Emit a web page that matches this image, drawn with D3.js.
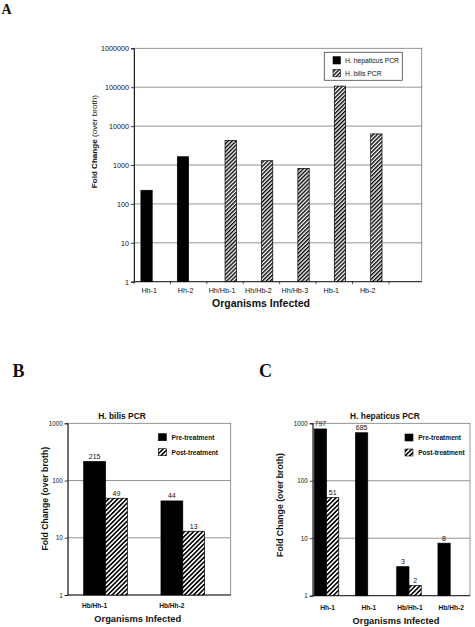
<!DOCTYPE html>
<html>
<head>
<meta charset="utf-8">
<script src="https://cdn.jsdelivr.net/npm/d3@7"></script>
<style>
  html, body { margin: 0; padding: 0; background: #fff; }
  svg { display: block; }
  text { font-family: "Liberation Sans", Arial, Helvetica, sans-serif; fill: #111; }
  .panel { font-family: "Liberation Serif", "Times New Roman", serif; font-weight: bold; }
</style>
</head>
<body>
<svg id="chart" width="475" height="627"></svg>
<script>
// ---------------- DATA ----------------
// Panel A
const categoriesA = ["Hh-1", "Hh-2", "Hh/Hb-1", "Hh/Hb-2", "Hh/Hb-3", "Hb-1", "Hb-2"];
const hepaticusA  = [224, 1630, null, null, null, null, null];
const bilisA      = [null, null, 4300, 1290, 820, 107000, 6300];
const seriesNamesA = ["H. hepaticus PCR", "H. bilis PCR"];
const yTicksA = [1, 10, 100, 1000, 10000, 100000, 1000000];

// Panel B (H. bilis PCR)
const titleB = "H. bilis PCR";
const categoriesB = ["Hb/Hh-1", "Hb/Hh-2"];
const preB  = [215, 44];
const postB = [49, 13];

// Panel C (H. hepaticus PCR)
const titleC = "H. hepaticus PCR";
const categoriesC = ["Hh-1", "Hh-1", "Hb/Hh-1", "Hb/Hh-2"];
const preC  = [797, 685, 3.2, 8.2];
const postC = [51, null, 1.5, null];

const seriesNamesBC = ["Pre-treatment", "Post-treatment"];
const yTicksBC = [1, 10, 100, 1000];

const xTitle = "Organisms Infected";
const yTitleBold = "Fold Change";
const yTitleRest = "(over broth)";

// ---------------- SETUP ----------------
const svg = d3.select("#chart");
const defs = svg.append("defs");

function hatch(id, period) {
  const p = defs.append("pattern")
    .attr("id", id)
    .attr("patternUnits", "userSpaceOnUse")
    .attr("width", period).attr("height", period)
    .attr("patternTransform", "rotate(45)");
  p.append("rect").attr("width", period).attr("height", period).attr("fill", "#fff");
  p.append("rect").attr("width", period * 0.5).attr("height", period).attr("fill", "#000");
}
hatch("hatchA", 2.8);
hatch("hatchBC", 3.2);

const fmtInt = d3.format(".0f");

function drawFrame(g, x0, x1, y, ticks, tickFont, gridColor) {
  // plot border
  g.append("rect")
    .attr("x", x0).attr("y", y(ticks[ticks.length - 1]))
    .attr("width", x1 - x0).attr("height", y(ticks[0]) - y(ticks[ticks.length - 1]))
    .attr("fill", "none").attr("stroke", gridColor).attr("stroke-width", 0.8);
  // gridlines
  g.append("g").selectAll("line")
    .data(ticks.slice(1, -1))
    .join("line")
    .attr("x1", x0).attr("x2", x1)
    .attr("y1", d => y(d)).attr("y2", d => y(d))
    .attr("stroke", gridColor).attr("stroke-width", 0.8);
  // y axis
  const ax = g.append("g")
    .attr("transform", `translate(${x0},0)`)
    .call(d3.axisLeft(y).tickValues(ticks).tickFormat(d3.format("d")).tickSize(3).tickPadding(2));
  ax.select(".domain").attr("stroke", "#111").attr("stroke-width", 0.9);
  ax.selectAll(".tick line").attr("stroke", "#111").attr("stroke-width", 0.8);
  ax.selectAll(".tick text").attr("font-size", tickFont).attr("font-family", "'Liberation Sans', Arial, sans-serif").attr("fill", "#111");
  // x axis line
  g.append("line")
    .attr("x1", x0).attr("x2", x1)
    .attr("y1", y(ticks[0])).attr("y2", y(ticks[0]))
    .attr("stroke", "#111").attr("stroke-width", 0.9);
}

// ---------------- PANEL A ----------------
{
  const g = svg.append("g");
  const x0 = 134, x1 = 421.7, yTop = 48.3, yBot = 281.7;
  const y = d3.scaleLog().domain([1, 1e6]).range([yBot, yTop]);
  const x = d3.scaleBand().domain(categoriesA).range([x0, x1])
    .paddingInner(0).paddingOuter(0.45).align(0);
  const xs = d3.scaleBand().domain([0, 1]).range([0, x.bandwidth()]).paddingOuter(0.61);

  drawFrame(g, x0, x1, y, yTicksA, 7.2, "#7a7a7a");

  // bottom ticks at band edges
  g.append("g").selectAll("line")
    .data(categoriesA.concat(["__end"]))
    .join("line")
    .attr("x1", (d, i) => x0 + i * x.step()).attr("x2", (d, i) => x0 + i * x.step())
    .attr("y1", yBot).attr("y2", yBot + 2.5)
    .attr("stroke", "#111").attr("stroke-width", 0.7);

  [hepaticusA, bilisA].forEach((vals, s) => {
    g.append("g").selectAll("rect")
      .data(vals.map((v, i) => ({ v, c: categoriesA[i] })).filter(d => d.v != null))
      .join("rect")
      .attr("x", d => x(d.c) + xs(s))
      .attr("width", xs.bandwidth())
      .attr("y", d => y(d.v))
      .attr("height", d => yBot - y(d.v))
      .attr("fill", s === 0 ? "#000" : "url(#hatchA)")
      .attr("stroke", "#000").attr("stroke-width", 0.7);
  });

  // category labels
  g.append("g").selectAll("text")
    .data(categoriesA)
    .join("text")
    .attr("x", d => x(d) + x.bandwidth() / 2 - 3)
    .attr("y", 292.5)
    .attr("text-anchor", "middle")
    .attr("font-size", 7.2)
    .text(d => d);

  g.append("text")
    .attr("x", 261).attr("y", 307)
    .attr("text-anchor", "middle")
    .attr("font-size", 10.5).attr("font-weight", "bold")
    .text(xTitle);

  const yt = g.append("text")
    .attr("transform", "translate(96.5,141.7) rotate(-90)")
    .attr("text-anchor", "middle")
    .attr("font-size", 8.1);
  yt.append("tspan").attr("font-weight", "bold").text(yTitleBold + " ");
  yt.append("tspan").text(yTitleRest);

  // legend
  const lg = g.append("g");
  lg.append("rect").attr("x", 324.3).attr("y", 52.3).attr("width", 78).attr("height", 28)
    .attr("fill", "#fff").attr("stroke", "#444").attr("stroke-width", 0.8);
  seriesNamesA.forEach((name, i) => {
    lg.append("rect").attr("x", 333).attr("y", 56.7 + i * 12.8).attr("width", 7.5).attr("height", 7.3)
      .attr("fill", i === 0 ? "#000" : "url(#hatchA)").attr("stroke", "#000").attr("stroke-width", 0.6);
    lg.append("text").attr("x", 345).attr("y", 60.4 + i * 12.8)
      .attr("dominant-baseline", "central").attr("font-size", 6.8).text(name);
  });

  svg.append("text").attr("class", "panel").attr("x", 1.5).attr("y", 13.5)
    .attr("font-size", 14).text("A");
}

// ---------------- PANELS B / C ----------------
function panelBC(opts) {
  const g = svg.append("g");
  const { x0, x1, yTop, yBot, cats, pre, post, title, titleX, pIn, pOut, align, labelOnPre,
          legX, legY, yLabelX, yLabelY, xTitleX, catY, xTitleY, letter, letterX } = opts;
  const y = d3.scaleLog().domain([1, 1000]).range([yBot, yTop]);
  const idx = d3.range(cats.length);
  const x = d3.scaleBand().domain(idx).range([x0, x1]).paddingInner(pIn).paddingOuter(pOut).align(align);
  const xs = d3.scaleBand().domain([0, 1]).range([0, x.bandwidth()]);

  drawFrame(g, x0, x1, y, yTicksBC, 6.3, "#7a7a7a");

  [pre, post].forEach((vals, s) => {
    const data = vals.map((v, i) => ({ v, i })).filter(d => d.v != null);
    g.append("g").selectAll("rect")
      .data(data)
      .join("rect")
      .attr("x", d => x(d.i) + xs(s))
      .attr("width", xs.bandwidth())
      .attr("y", d => y(d.v))
      .attr("height", d => yBot - y(d.v))
      .attr("fill", s === 0 ? "#000" : "url(#hatchBC)")
      .attr("stroke", "#000").attr("stroke-width", 0.7);
    g.append("g").selectAll("text")
      .data(data)
      .join("text")
      .attr("x", d => x(d.i) + xs(s) + xs.bandwidth() / 2)
      .attr("y", d => y(d.v) - 2.6)
      .attr("text-anchor", "middle")
      .attr("font-size", 7)
      .text(d => fmtInt(d.v));
  });

  g.append("g").selectAll("text")
    .data(idx)
    .join("text")
    .attr("x", i => labelOnPre ? x(i) + xs(0) + xs.bandwidth() / 2 : x(i) + x.bandwidth() / 2 + 1)
    .attr("y", catY)
    .attr("text-anchor", "middle")
    .attr("font-size", 6.6).attr("font-weight", "bold")
    .text(i => cats[i]);

  g.append("text")
    .attr("x", titleX).attr("y", yTop - 4)
    .attr("text-anchor", "middle")
    .attr("font-size", 8.4).attr("font-weight", "bold")
    .text(title);

  g.append("text")
    .attr("x", xTitleX).attr("y", xTitleY)
    .attr("text-anchor", "middle")
    .attr("font-size", 9.3).attr("font-weight", "bold")
    .text(xTitle);

  g.append("text")
    .attr("transform", `translate(${yLabelX},${yLabelY}) rotate(-90)`)
    .attr("text-anchor", "middle")
    .attr("font-size", 8.7).attr("font-weight", "bold")
    .text(yTitleBold + " " + yTitleRest);

  seriesNamesBC.forEach((name, i) => {
    g.append("rect").attr("x", legX).attr("y", legY + i * 15).attr("width", 8).attr("height", 7)
      .attr("fill", i === 0 ? "#000" : "url(#hatchBC)").attr("stroke", "#000").attr("stroke-width", 0.6);
    g.append("text").attr("x", legX + 13.2).attr("y", legY + 3.6 + i * 15)
      .attr("dominant-baseline", "central")
      .attr("font-size", 6.6).attr("font-weight", "bold").text(name);
  });

  svg.append("text").attr("class", "panel").attr("x", letterX).attr("y", 376.5)
    .attr("font-size", 18).text(letter);
}

panelBC({
  x0: 67.7, x1: 230.7, yTop: 423.3, yBot: 595, cats: categoriesB, pre: preB, post: postB,
  title: titleB, titleX: 122, pIn: 0.435, pOut: 0.272, align: 0.38, labelOnPre: true,
  legX: 158.3, legY: 433.7, yLabelX: 48, yLabelY: 498.7, xTitleX: 137.7,
  catY: 608, xTitleY: 622.3, letter: "B", letterX: 12.5
});

panelBC({
  x0: 312.7, x1: 470, yTop: 423.3, yBot: 595.7, cats: categoriesC, pre: preC, post: postC,
  title: titleC, titleX: 385, pIn: 0.405, pOut: 0.11, align: 0.17, labelOnPre: false,
  legX: 405, legY: 434, yLabelX: 283, yLabelY: 505, xTitleX: 396,
  catY: 610, xTitleY: 624.3, letter: "C", letterX: 259
});
</script>
</body>
</html>
